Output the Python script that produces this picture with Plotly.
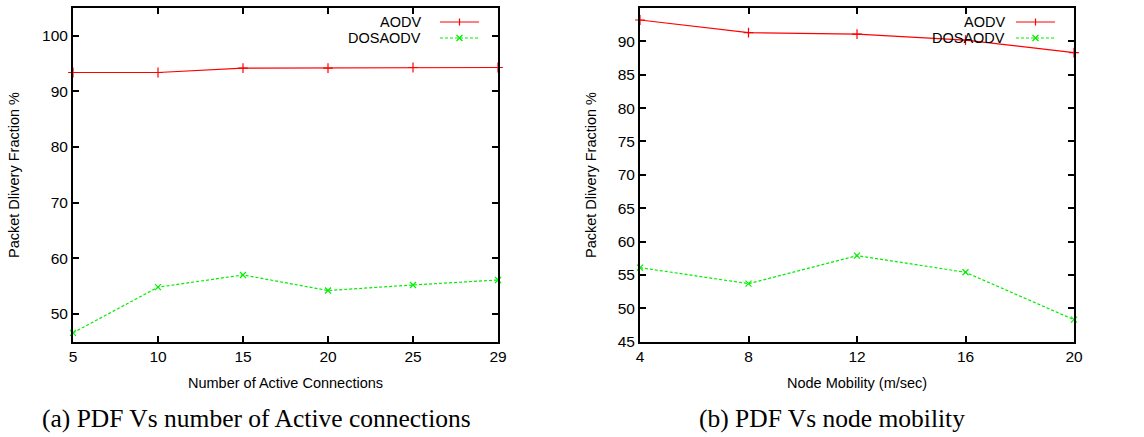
import plotly.graph_objects as go

# Data
conn_labels = ["5", "10", "15", "20", "25", "29"]
aodv_conn = [93.4, 93.4, 94.2, 94.2, 94.3, 94.3]
dos_conn = [46.6, 54.8, 57.0, 54.2, 55.2, 56.1]

mobility = [4, 8, 12, 16, 20]
aodv_mob = [93.2, 91.3, 91.1, 90.2, 88.3]
dos_mob = [56.1, 53.7, 57.9, 55.4, 48.3]

RED = "#ff0000"
GREEN = "#00ee00"
FONT = "Liberation Sans, Arial, sans-serif"
SERIF = "Liberation Serif, Times New Roman, serif"

W, H = 1144, 437
def px(x):
    return x / W
def py(y):
    return 1 - y / H

xdom1 = [px(73), px(498)]
xdom2 = [px(640), px(1074)]
ydom = [py(341.7), py(8)]

fig = go.Figure()
conn_idx = list(range(len(conn_labels)))

fig.add_trace(go.Scatter(x=conn_idx, y=aodv_conn, mode="lines+markers", xaxis="x", yaxis="y",
                         line=dict(color=RED, width=1.2),
                         marker=dict(symbol="cross-thin", size=7, line=dict(color=RED, width=1.2)),
                         cliponaxis=False, showlegend=False))
fig.add_trace(go.Scatter(x=conn_idx, y=dos_conn, mode="lines+markers", xaxis="x", yaxis="y",
                         line=dict(color=GREEN, width=1.2, dash="3px,2px"),
                         marker=dict(symbol="x-thin", size=6, line=dict(color=GREEN, width=1.2)),
                         cliponaxis=False, showlegend=False))
fig.add_trace(go.Scatter(x=mobility, y=aodv_mob, mode="lines+markers", xaxis="x2", yaxis="y2",
                         line=dict(color=RED, width=1.2),
                         marker=dict(symbol="cross-thin", size=7, line=dict(color=RED, width=1.2)),
                         cliponaxis=False, showlegend=False))
fig.add_trace(go.Scatter(x=mobility, y=dos_mob, mode="lines+markers", xaxis="x2", yaxis="y2",
                         line=dict(color=GREEN, width=1.2, dash="3px,2px"),
                         marker=dict(symbol="x-thin", size=6, line=dict(color=GREEN, width=1.2)),
                         cliponaxis=False, showlegend=False))

axis_common = dict(showline=True, linecolor="black", linewidth=2, mirror="ticks",
                   ticks="inside", ticklen=6, tickwidth=1.5, tickcolor="black",
                   showgrid=False, zeroline=False, automargin=False,
                   tickfont=dict(family=FONT, size=15.5, color="black"))

fig.update_layout(
    width=W, height=H,
    margin=dict(l=0, r=0, t=0, b=0),
    paper_bgcolor="white", plot_bgcolor="white",
    xaxis=dict(domain=xdom1, anchor="y", range=[0, 5], tickmode="array",
               tickvals=conn_idx, ticktext=conn_labels, **axis_common),
    yaxis=dict(domain=ydom, anchor="x", range=[45, 105], tickmode="array",
               tickvals=[50, 60, 70, 80, 90, 100], **axis_common),
    xaxis2=dict(domain=xdom2, anchor="y2", range=[4, 20], tickmode="array",
                tickvals=mobility, **axis_common),
    yaxis2=dict(domain=ydom, anchor="x2", range=[45, 95], tickmode="array",
                tickvals=[45, 50, 55, 60, 65, 70, 75, 80, 85, 90, 95], **axis_common),
)

TS = 14.5
annos = []
# axis titles
annos.append(dict(text="Number of Active Connections", x=px(285.5), y=py(383), xref="paper", yref="paper",
                  showarrow=False, font=dict(family=FONT, size=TS, color="black"), xanchor="center", yanchor="middle"))
annos.append(dict(text="Node Mobility (m/sec)", x=px(857), y=py(383), xref="paper", yref="paper",
                  showarrow=False, font=dict(family=FONT, size=TS, color="black"), xanchor="center", yanchor="middle"))
annos.append(dict(text="Packet Dlivery Fraction %", x=px(14), y=py(175), xref="paper", yref="paper",
                  showarrow=False, textangle=-90, font=dict(family=FONT, size=TS, color="black"),
                  xanchor="center", yanchor="middle"))
annos.append(dict(text="Packet Dlivery Fraction %", x=px(591), y=py(175), xref="paper", yref="paper",
                  showarrow=False, textangle=-90, font=dict(family=FONT, size=TS, color="black"),
                  xanchor="center", yanchor="middle"))
# captions
annos.append(dict(text="(a) PDF Vs number of Active connections", x=px(256.5), y=py(418), xref="paper", yref="paper",
                  showarrow=False, font=dict(family=SERIF, size=25.5, color="black"), xanchor="center", yanchor="middle"))
annos.append(dict(text="(b) PDF Vs node mobility", x=px(831.5), y=py(418), xref="paper", yref="paper",
                  showarrow=False, font=dict(family=SERIF, size=25.5, color="black"), xanchor="center", yanchor="middle"))

shapes = []
# manual gnuplot-style legends: text right-aligned, sample to the right
for (text_right, ls, le) in [(423, 440, 479), (1007, 1016, 1055)]:
    for (name, yy, color, dash, sym) in [("AODV", 22, RED, "solid", "+"), ("DOSAODV", 38, GREEN, "3px,2px", "x")]:
        annos.append(dict(text=name, x=px(text_right), y=py(yy), xref="paper", yref="paper",
                          showarrow=False, font=dict(family=FONT, size=TS, color="black"),
                          xanchor="right", yanchor="middle"))
        shapes.append(dict(type="line", xref="paper", yref="paper", x0=px(ls), x1=px(le), y0=py(yy), y1=py(yy),
                           line=dict(color=color, width=1.2, dash=dash)))
        cx = (ls + le) / 2
        if sym == "+":
            shapes.append(dict(type="line", xref="paper", yref="paper", x0=px(cx), x1=px(cx),
                               y0=py(yy - 3.5), y1=py(yy + 3.5), line=dict(color=color, width=1.2)))
        else:
            shapes.append(dict(type="line", xref="paper", yref="paper", x0=px(cx - 3), x1=px(cx + 3),
                               y0=py(yy - 3), y1=py(yy + 3), line=dict(color=color, width=1.2)))
            shapes.append(dict(type="line", xref="paper", yref="paper", x0=px(cx - 3), x1=px(cx + 3),
                               y0=py(yy + 3), y1=py(yy - 3), line=dict(color=color, width=1.2)))

fig.update_layout(annotations=annos, shapes=shapes)
fig.write_html("out.html", config={"displayModeBar": False},
               post_script="document.body.style.margin='0';document.body.style.overflow='hidden';")
